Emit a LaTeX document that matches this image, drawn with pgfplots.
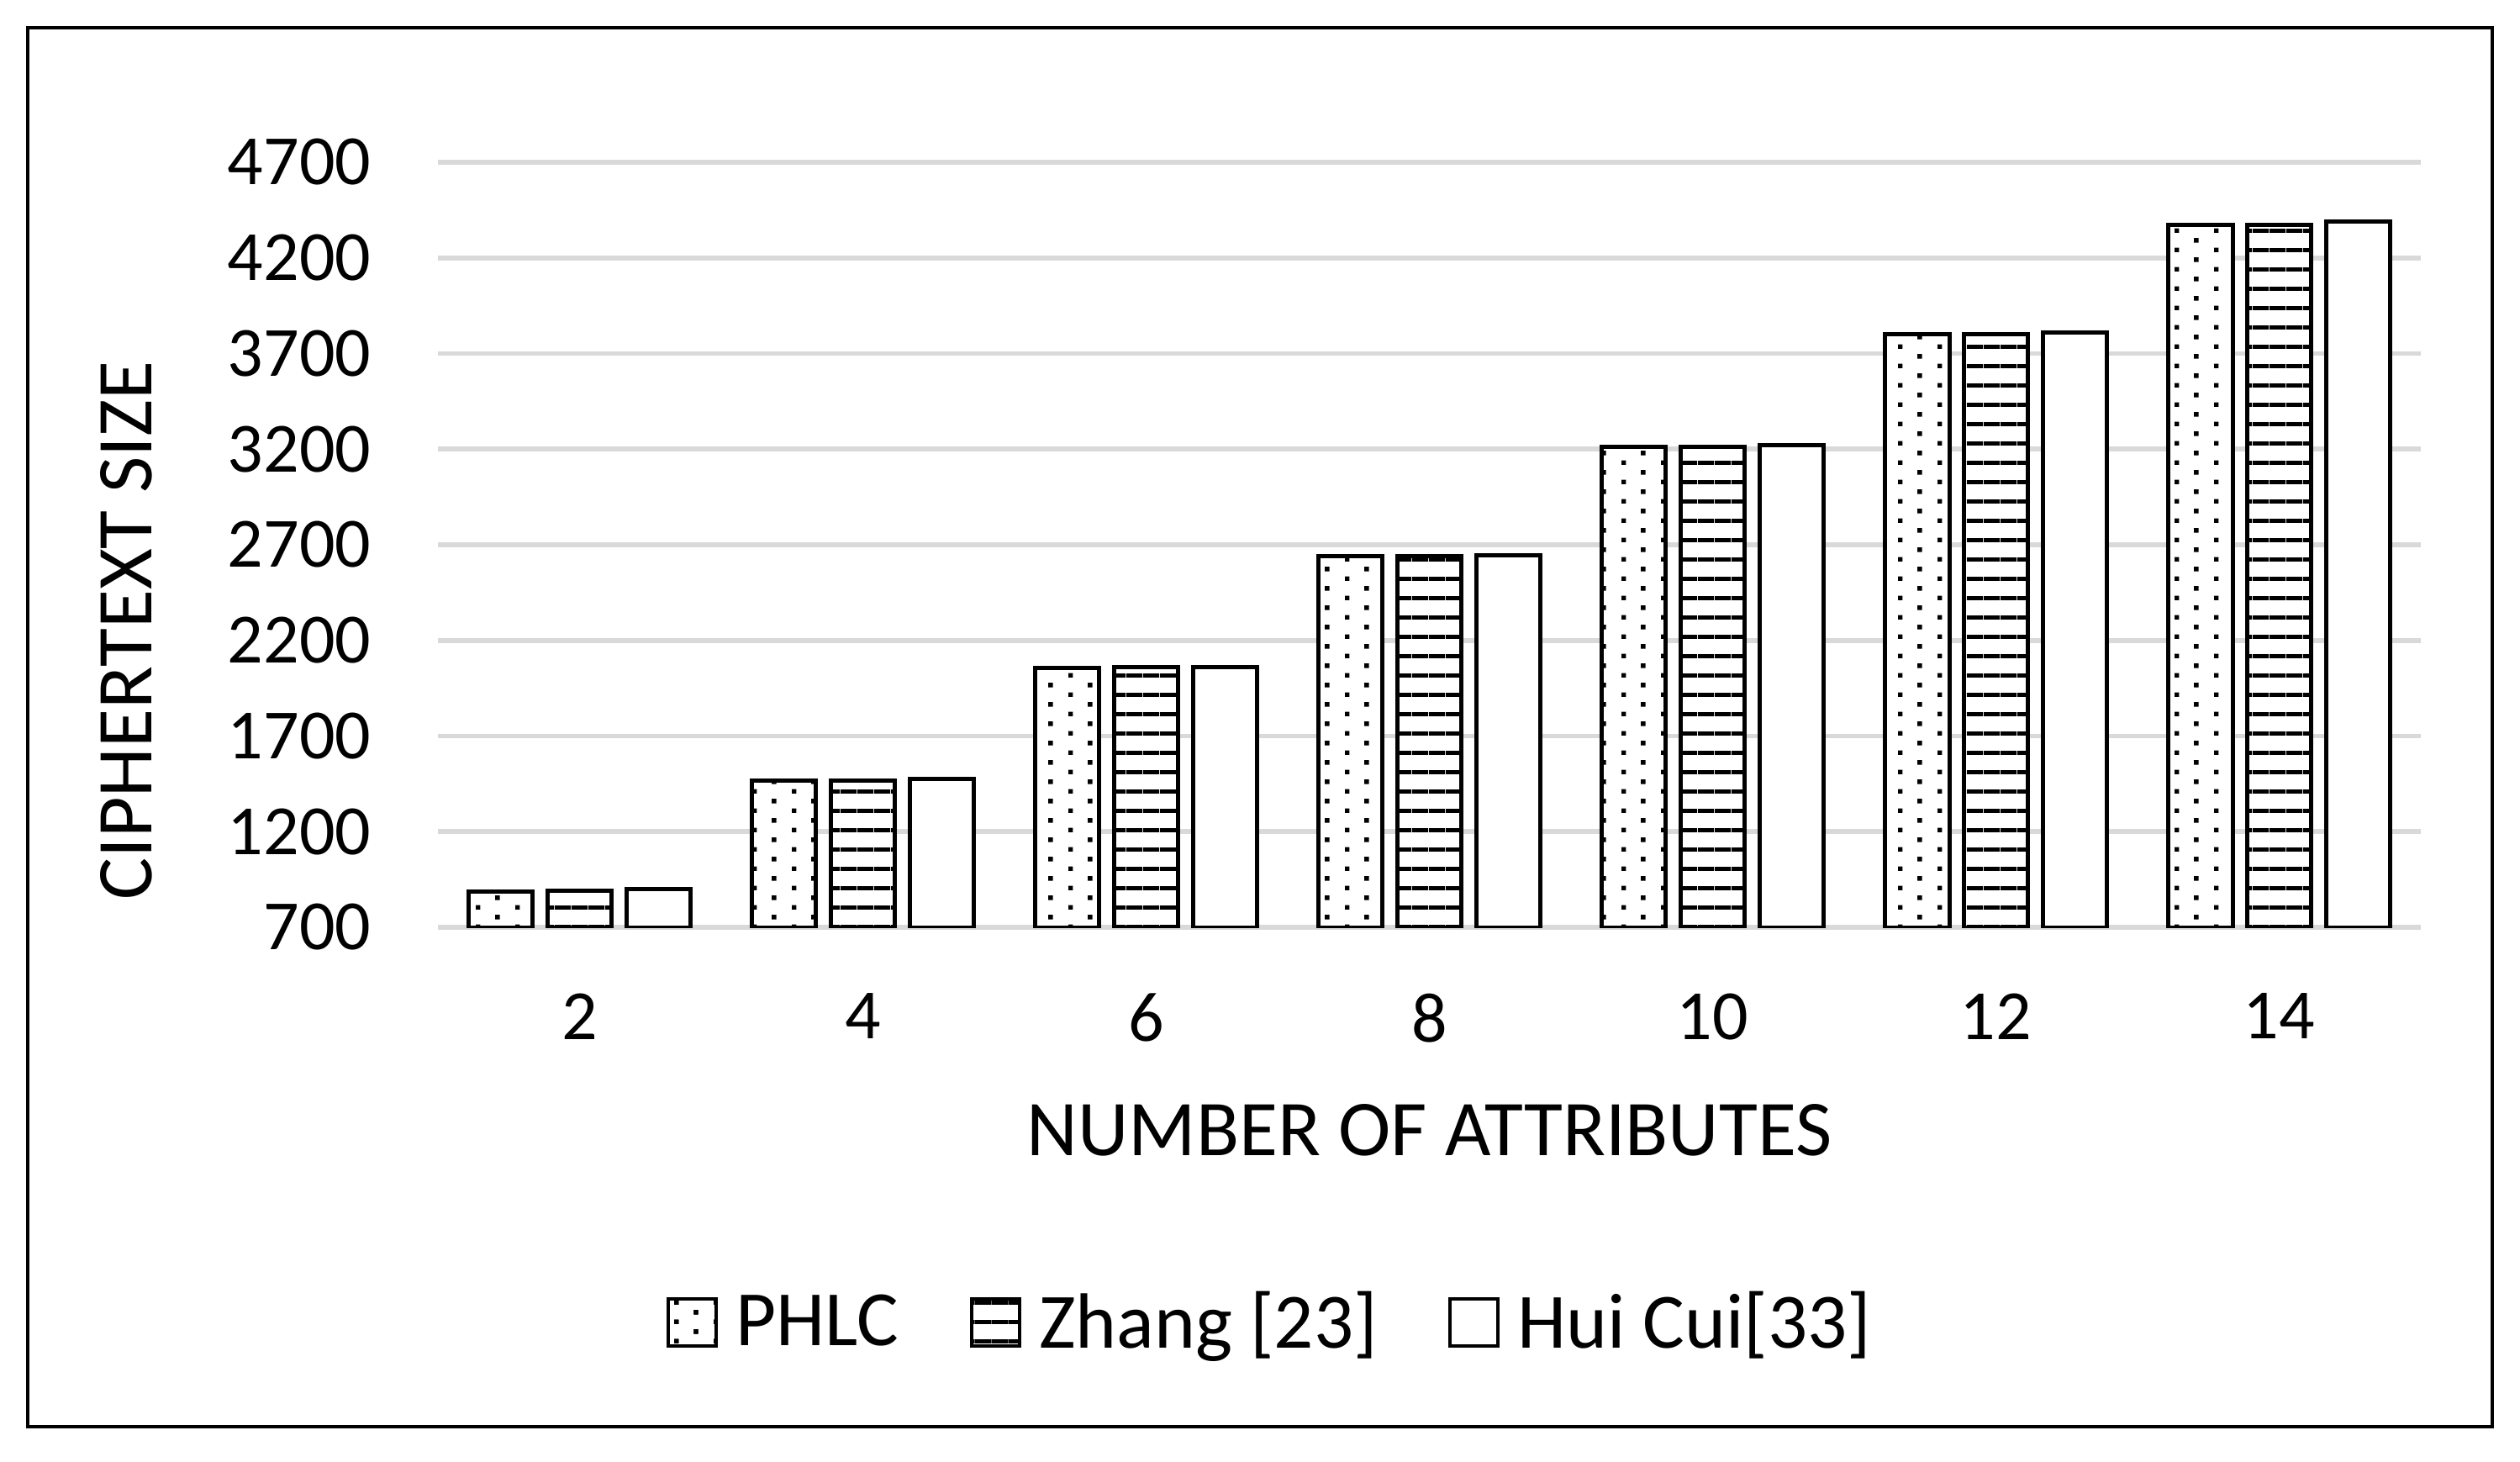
\documentclass[border=0pt]{standalone}
\usepackage{fontspec}
\setmainfont{Carlito}
\usepackage{pgfplots}
\pgfplotsset{compat=1.18}
\usetikzlibrary{patterns}

\pgfdeclarepatternformonly{phlcdots}{\pgfpointorigin}{\pgfpoint{11.8pt}{5.87pt}}{\pgfpoint{11.8pt}{5.87pt}}{%
  \pgfpathrectangle{\pgfpoint{0pt}{0pt}}{\pgfpoint{1.35pt}{1.35pt}}%
  \pgfpathrectangle{\pgfpoint{5.9pt}{2.935pt}}{\pgfpoint{1.35pt}{1.35pt}}%
  \pgfusepath{fill}}
\pgfdeclarepatternformonly{hlinesthick}{\pgfpointorigin}{\pgfpoint{5pt}{5.87pt}}{\pgfpoint{5pt}{5.87pt}}{%
  \pgfpathrectangle{\pgfpoint{0pt}{0pt}}{\pgfpoint{5pt}{1.25pt}}%
  \pgfusepath{fill}}

\pgfplotstableread{
x  phlc  zhang  hui
0  889   890    902
1  1468  1469   1476
2  2058  2059   2062
3  2639  2640   2645
4  3213  3214   3222
5  3801  3802   3810
6  4371  4372   4389
}\datatable

\definecolor{gridgray}{HTML}{D9D9D9}
\newcommand{\tickfont}{\fontsize{21}{25}\selectfont}
\newcommand{\titlefont}{\fontsize{23.5}{28}\selectfont}
\newcommand{\legfont}{\fontsize{23.3}{28}\selectfont}

\begin{document}
\begin{tikzpicture}[x=1pt,y=1pt]
\useasboundingbox (0,0) rectangle (749.5,434.5);
\fill[white] (0,0) rectangle (749.5,434.5);
\draw[line width=1.15pt] (8.25,10.25) rectangle (741.25,426.25);
\begin{axis}[
  at={(130.25pt,158.75pt)}, anchor=south west,
  scale only axis, width=589.75pt, height=227.5pt,
  xmin=-0.5, xmax=6.5, ymin=700, ymax=4700,
  ytick={700,1200,...,4700},
  xtick={0,...,6}, xticklabels={2,4,6,8,10,12,14},
  ymajorgrids, grid style={gridgray, line width=1.4pt},
  axis line style={draw=none},
  major tick length=0pt,
  /pgf/number format/1000 sep={},
  /pgf/number format/assume math mode=true,
  tick label style={font=\tickfont},
  yticklabel style={anchor=east, inner sep=0pt, xshift=-19.75pt},
  xticklabel style={anchor=north, inner sep=0pt, yshift=-19.5pt},
  xlabel={NUMBER OF ATTRIBUTES},
  ylabel={CIPHERTEXT SIZE},
  label style={font=\titlefont},
  xlabel style={at={(axis description cs:0.5,0)}, anchor=north, inner sep=0pt, yshift=-52.5pt},
  ylabel style={at={(axis description cs:-0.1573,0.388)}, rotate=0, anchor=center, inner sep=0pt},
  ybar, bar width=0.2265,
  legend columns=3,
  legend style={at={(0.1153,-0.5165)}, anchor=west, draw=none, font=\legfont,
    inner sep=0pt, outer sep=0pt,
    /tikz/every even column/.append style={column sep=21pt},
    nodes={inner sep=0pt}},
  legend cell align=left,
]
\addplot[draw=black, line width=1.25pt, fill=white, postaction={pattern=phlcdots}, bar shift=-0.278,
  legend image code/.code={\draw[line width=1pt, fill=white, postaction={pattern=phlcdots}] (0pt,-7pt) rectangle (14.25pt,7pt); \path (19.5pt,0pt);}]
  table[x=x, y=phlc] {\datatable};
\addlegendentry{PHLC}
\addplot[draw=black, line width=1.25pt, fill=white, postaction={pattern=hlinesthick}, bar shift=0,
  legend image code/.code={\draw[line width=1pt, fill=white, postaction={pattern=hlinesthick}] (0pt,-7pt) rectangle (14.25pt,7pt); \path (19.5pt,0pt);}]
  table[x=x, y=zhang] {\datatable};
\addlegendentry{Zhang [23]}
\addplot[draw=black, line width=1.25pt, fill=white, bar shift=0.278,
  legend image code/.code={\draw[line width=1pt, fill=white] (0pt,-7pt) rectangle (14.25pt,7pt); \path (19.5pt,0pt);}]
  table[x=x, y=hui] {\datatable};
\addlegendentry{Hui Cui[33]}
\end{axis}
\end{tikzpicture}
\end{document}
